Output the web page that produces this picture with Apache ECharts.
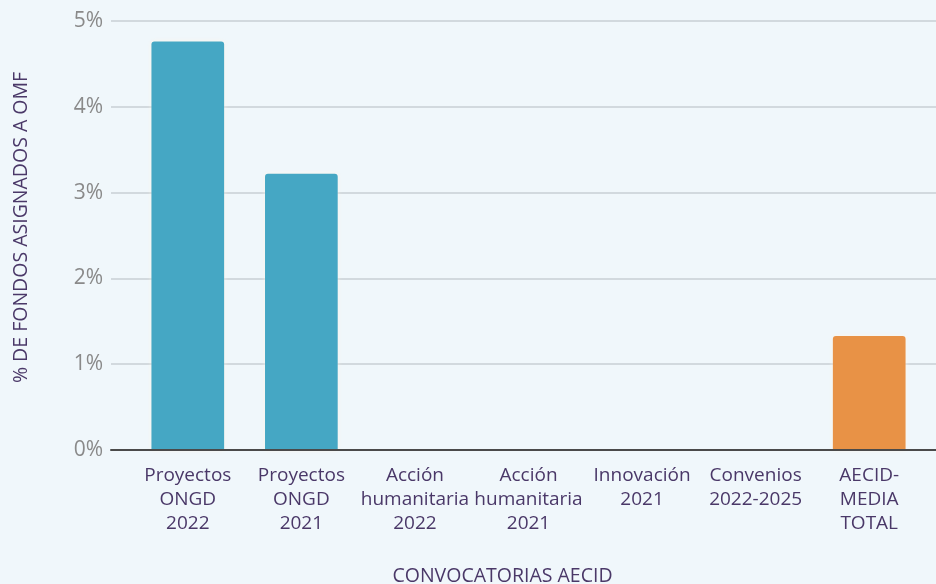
<!DOCTYPE html>
<html>
<head>
<meta charset="utf-8">
<script src="https://cdn.jsdelivr.net/npm/echarts@6/dist/echarts.min.js"></script>
<style>
html,body{margin:0;padding:0;background:#f0f7fb;}
#c{width:936px;height:584px;}
</style>
</head>
<body>
<div id="c"></div>
<script>
const categories = ["Proyectos\nONGD\n2022", "Proyectos\nONGD\n2021", "Acción\nhumanitaria\n2022", "Acción\nhumanitaria\n2021", "Innovación\n2021", "Convenios\n2022-2025", "AECID-\nMEDIA\nTOTAL"];
const values = [4.76, 3.22, 0, 0, 0, 0, 1.33];
const yTicks = [0, 1, 2, 3, 4, 5];

const FONT = "'Open Sans', 'Noto Sans', sans-serif";
const PURPLE = '#4a3868';
const chart = echarts.init(document.getElementById('c'));
chart.setOption({
  backgroundColor: '#f0f7fb',
  animation: false,
  grid: [
    {left: 131, right: 10, top: 21, bottom: 134, outerBoundsMode: 'none', containLabel: false},
    {left: 111, right: 0, top: 21, bottom: 134, outerBoundsMode: 'none', containLabel: false}
  ],
  xAxis: [
    {
      type: 'category', gridIndex: 0, data: categories,
      axisLine: {show: false}, axisTick: {show: false},
      axisLabel: {color: PURPLE, fontSize: 19, lineHeight: 24, fontFamily: FONT, margin: 14, interval: 0},
      name: 'CONVOCATORIAS AECID', nameLocation: 'middle', nameGap: 116,
      nameTextStyle: {color: PURPLE, fontSize: 19.5, fontFamily: FONT, padding: [0, 52, 0, 0]}
    },
    {
      type: 'category', gridIndex: 1, data: [''], z: 10,
      axisLine: {show: true, lineStyle: {color: '#4a4a4a', width: 2}},
      axisTick: {show: false}, axisLabel: {show: false}
    }
  ],
  yAxis: [
    {
      type: 'value', gridIndex: 0, min: 0, max: 5, interval: 1,
      splitLine: {show: false}, axisLabel: {show: false}, axisLine: {show: false}
    },
    {
      type: 'value', gridIndex: 1, min: yTicks[0], max: yTicks[yTicks.length - 1], interval: 1,
      axisLine: {show: false}, axisTick: {show: false},
      splitLine: {lineStyle: {color: '#c9cfd4', width: 1.5}},
      axisLabel: {formatter: '{value}%', color: '#8a8a8a', fontSize: 21, fontFamily: FONT, margin: 8},
      name: '% DE FONDOS ASIGNADOS A OMF', nameLocation: 'middle', nameGap: 80, nameRotate: 90,
      nameTextStyle: {color: PURPLE, fontSize: 19.5, fontFamily: FONT, padding: [0, 0, 0, 16]}
    }
  ],
  series: [{
    type: 'bar', xAxisIndex: 0, yAxisIndex: 0,
    data: values,
    barWidth: '64%',
    itemStyle: {
      borderRadius: [3, 3, 0, 0],
      color: function (p) { return p.dataIndex === categories.length - 1 ? '#e89246' : '#45a7c4'; },
      shadowBlur: 4,
      shadowColor: 'rgba(255,245,230,0.8)'
    }
  }]
});
</script>
</body>
</html>
